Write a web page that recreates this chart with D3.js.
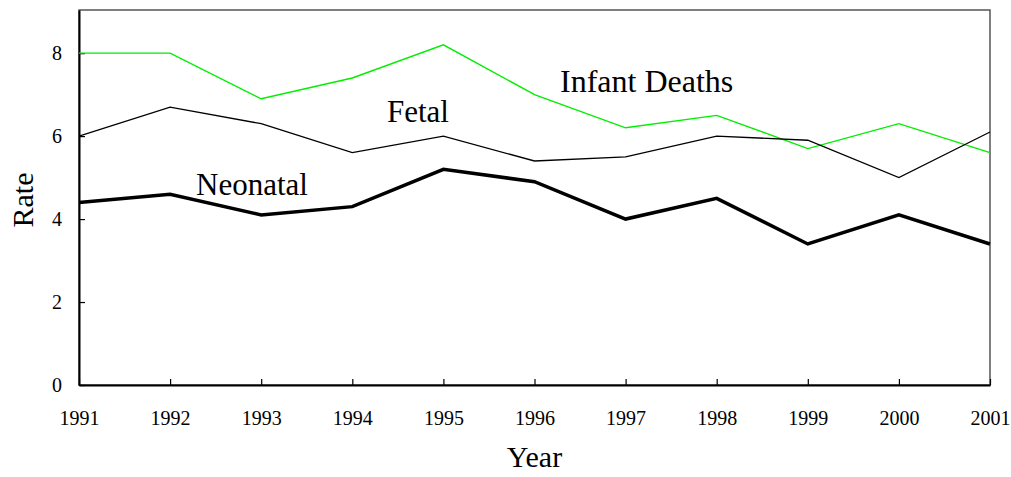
<!DOCTYPE html>
<html>
<head>
<meta charset="utf-8">
<script src="https://cdn.jsdelivr.net/npm/d3@7"></script>
<style>
    body { margin: 0; background: #fff; }
    text { font-family: "Liberation Serif", "Times New Roman", serif; fill: #000; }
</style>
</head>
<body>
<div id="chart"></div>
<script>
const years = [1991, 1992, 1993, 1994, 1995, 1996, 1997, 1998, 1999, 2000, 2001];
const infantDeaths = [8.0, 8.0, 6.9, 7.4, 8.2, 7.0, 6.2, 6.5, 5.7, 6.3, 5.6];
const fetal = [6.0, 6.7, 6.3, 5.6, 6.0, 5.4, 5.5, 6.0, 5.9, 5.0, 6.1];
const neonatal = [4.4, 4.6, 4.1, 4.3, 5.2, 4.9, 4.0, 4.5, 3.4, 4.1, 3.4];
const yTicks = [0, 2, 4, 6, 8];

const width = 1011, height = 477;
const margin = { top: 10, right: 21, bottom: 92, left: 79 };
const plotW = width - margin.left - margin.right;
const plotH = height - margin.top - margin.bottom;

const svg = d3.select("#chart").append("svg")
    .attr("width", width)
    .attr("height", height);

const focus = svg.append("g")
    .attr("transform", "translate(" + margin.left + "," + margin.top + ")");

const x = d3.scaleLinear().domain([1991, 2001]).range([0, plotW]);
const y = d3.scaleLinear().domain([0, 9.04]).range([plotH, 0]);

// frame (top and right)
focus.append("rect")
    .attr("width", plotW)
    .attr("height", plotH)
    .attr("fill", "none")
    .attr("stroke", "#555")
    .attr("stroke-width", 1.5);

// x axis, ticks inward
const gX = focus.append("g")
    .attr("transform", "translate(0," + plotH + ")")
    .call(d3.axisBottom(x).tickValues(years).tickFormat(d3.format("d")).tickSizeInner(-6).tickSizeOuter(0).tickPadding(0));
gX.select(".domain").attr("stroke", "#000").attr("stroke-width", 2);
gX.selectAll(".tick line").attr("stroke", "#000").attr("stroke-width", 1.2);
gX.selectAll(".tick text")
    .attr("font-size", "20px")
    .attr("y", 40)
    .attr("dy", 0);

// y axis, ticks inward
const gY = focus.append("g")
    .call(d3.axisLeft(y).tickValues(yTicks).tickSizeInner(-6).tickSizeOuter(0).tickPadding(17));
gY.select(".domain").attr("stroke", "#000").attr("stroke-width", 2);
gY.selectAll(".tick line").attr("stroke", "#000").attr("stroke-width", 1.2);
gY.selectAll(".tick text")
    .attr("font-size", "20px");

const line = d3.line()
    .x((d, i) => x(years[i]))
    .y(d => y(d));

focus.append("path")
    .datum(infantDeaths)
    .attr("d", line)
    .attr("fill", "none")
    .attr("stroke", "#00ee00")
    .attr("stroke-width", 1.4);

focus.append("path")
    .datum(fetal)
    .attr("d", line)
    .attr("fill", "none")
    .attr("stroke", "#000")
    .attr("stroke-width", 1.3);

focus.append("path")
    .datum(neonatal)
    .attr("d", line)
    .attr("fill", "none")
    .attr("stroke", "#000")
    .attr("stroke-width", 3.5);

// series labels
focus.append("text")
    .attr("x", 481).attr("y", 82)
    .attr("font-size", "32px")
    .text("Infant Deaths");
focus.append("text")
    .attr("x", 308).attr("y", 112)
    .attr("font-size", "31px")
    .text("Fetal");
focus.append("text")
    .attr("x", 117).attr("y", 185)
    .attr("font-size", "31px")
    .text("Neonatal");

// axis titles
svg.append("text")
    .attr("x", margin.left + plotW / 2)
    .attr("y", 467)
    .attr("text-anchor", "middle")
    .attr("font-size", "30px")
    .text("Year");
svg.append("text")
    .attr("transform", "translate(33," + 200 + ") rotate(-90)")
    .attr("text-anchor", "middle")
    .attr("font-size", "30px")
    .text("Rate");
</script>
</body>
</html>
